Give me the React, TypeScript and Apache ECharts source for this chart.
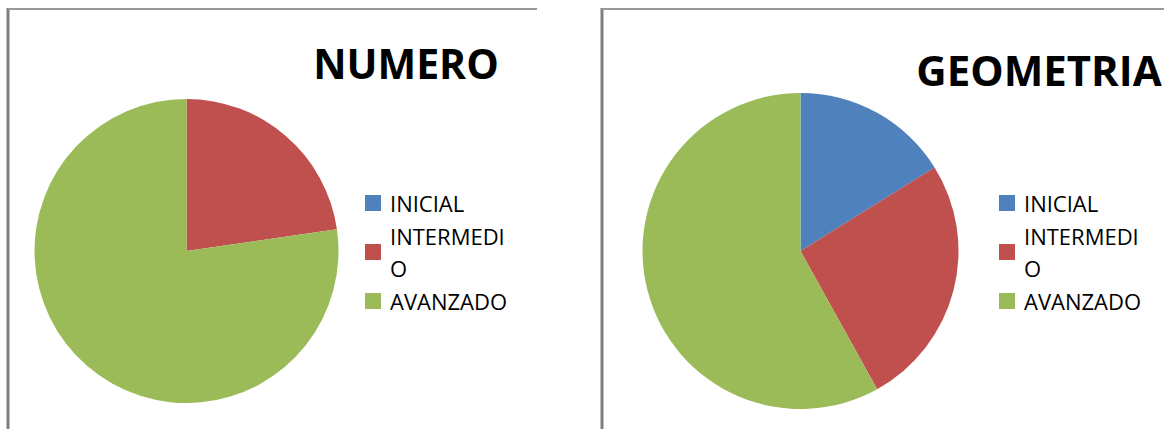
import React, { useEffect, useRef } from "react";
import * as echarts from "echarts";

const categories = ["INICIAL", "INTERMEDIO", "AVANZADO"];
const numeroValues = [0, 5, 17];
const geometriaValues = [5, 8, 18];
const titles = ["NUMERO", "GEOMETRIA"];
const colors = ["#4F81BD", "#C0504D", "#9BBB59"];

export default function App() {
  const ref = useRef<HTMLDivElement>(null);
  useEffect(() => {
    if (!ref.current) return;
    const chart = echarts.init(ref.current, undefined, { renderer: "svg" });
    const mk = (vals: number[]) =>
      categories.map((c, i) => ({ name: c, value: vals[i], itemStyle: { color: colors[i] } }));
    const legendBase = {
      orient: "vertical" as const,
      icon: "rect",
      itemWidth: 16,
      itemHeight: 16,
      itemGap: 1,
      selectedMode: false,
      padding: 0,
      data: categories,
      formatter: (n: string) => (n === "INTERMEDIO" ? "INTERMEDI\nO" : n),
      textStyle: {
        fontFamily: "Open Sans",
        fontSize: 22,
        lineHeight: 32,
        color: "#000",
        padding: [0, 0, 0, 4],
      },
    };
    chart.setOption({
      animation: false,
      backgroundColor: "#fff",
      legend: [
        { ...legendBase, left: 365, top: 187 },
        { ...legendBase, left: 999, top: 187 },
      ],
      graphic: [
        { type: "line", shape: { x1: 8, y1: 8, x2: 8, y2: 429 }, style: { stroke: "#7f7f7f", lineWidth: 3 } },
        { type: "line", shape: { x1: 8, y1: 9, x2: 537, y2: 9 }, style: { stroke: "#999", lineWidth: 2 } },
        { type: "line", shape: { x1: 602, y1: 8, x2: 602, y2: 429 }, style: { stroke: "#7f7f7f", lineWidth: 3 } },
        { type: "line", shape: { x1: 602, y1: 9, x2: 1164, y2: 9 }, style: { stroke: "#999", lineWidth: 2 } },
        {
          type: "text",
          x: 406,
          y: 63,
          style: {
            text: titles[0],
            fontFamily: "Open Sans",
            fontWeight: "bold",
            fontSize: 41,
            fill: "#000",
            align: "center",
            verticalAlign: "middle",
          },
        },
        {
          type: "text",
          x: 1039,
          y: 69,
          style: {
            text: titles[1],
            fontFamily: "Open Sans",
            fontWeight: "bold",
            fontSize: 42,
            fill: "#000",
            align: "center",
            verticalAlign: "middle",
          },
        },
      ],
      series: [
        {
          type: "pie",
          center: [186.5, 251],
          radius: 152,
          startAngle: 90,
          clockwise: true,
          label: { show: false },
          labelLine: { show: false },
          silent: true,
          data: mk(numeroValues),
        },
        {
          type: "pie",
          center: [800.5, 251],
          radius: 158,
          startAngle: 90,
          clockwise: true,
          label: { show: false },
          labelLine: { show: false },
          silent: true,
          data: mk(geometriaValues),
        },
      ],
    });
    return () => chart.dispose();
  }, []);
  return (
    <div
      ref={ref}
      style={{ position: "absolute", left: 0, top: 0, width: 1164, height: 429 }}
    />
  );
}
